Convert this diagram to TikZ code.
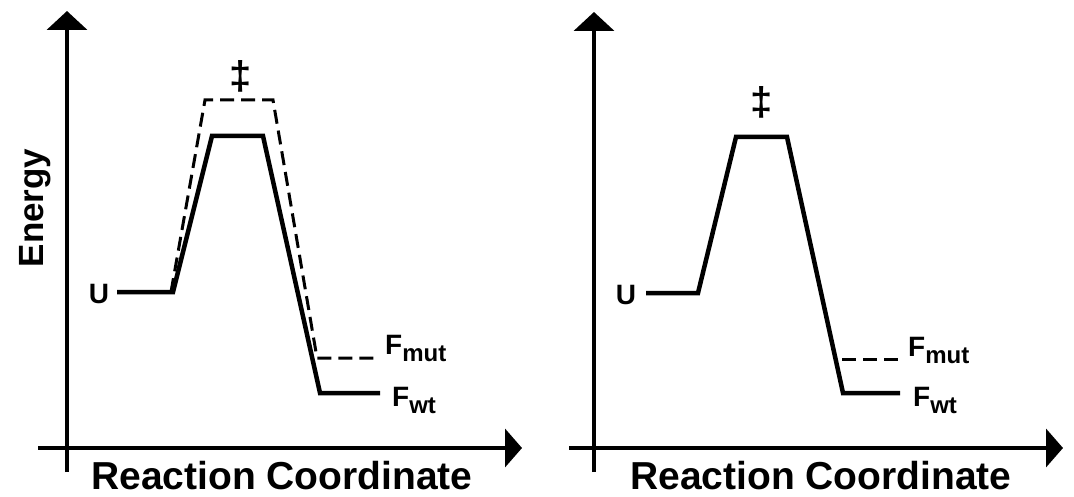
\documentclass[tikz,border=0pt]{standalone}
\usepackage{fontspec}
\setmainfont{Liberation Sans}
\usetikzlibrary{arrows.meta}

\newcommand{\levelsub}[2]{#1\raisebox{-7pt}{\fontsize{24}{24}\selectfont #2}}

\begin{document}
\begin{tikzpicture}[
        x=1pt, y=-1pt,
        axis/.style={line width=4pt, -{Triangle[length=19pt,width=40pt]}},
        xaxis/.style={line width=4pt, -{Triangle[length=17pt,width=38pt]}},
        path/.style={line width=4.5pt},
        mutpath/.style={line width=3pt, dash pattern=on 14pt off 7pt},
        lbl/.style={font=\fontsize{28}{28}\selectfont\bfseries, inner sep=0pt},
        dag/.style={font=\fontsize{40}{40}\selectfont\bfseries, inner sep=0pt},
        title/.style={font=\fontsize{39}{39}\selectfont\bfseries, inner sep=0pt, text depth=0pt}
      ]
  \useasboundingbox (0,0) rectangle (1074,497);

  % left panel
  \draw [axis]  (67,472) -- (67,11);
  \draw [xaxis] (38,448) -- (522,448);
  \node (energy) [title, font=\fontsize{35}{35}\selectfont\bfseries, rotate=90, anchor=base] at (43,208) {Energy};
  \node (rcL) [title, anchor=base] at (282,489) {Reaction Coordinate};

  \node (uL)    [lbl, anchor=base] at (99,303) {U};
  \node (dagL)  [dag] at (241,76) {‡};
  \node (fmutL) [lbl, anchor=base west] at (385,354) {\levelsub{F}{mut}};
  \node (fwtL)  [lbl, anchor=base west] at (392,406) {\levelsub{F}{wt}};

  \draw [mutpath] (171,292) -- (205,100) -- (273,100) -- (317,358) -- (377,358);
  \draw [path] (117,292) -- (173,292) -- (212,136) -- (263,136) -- (320,393) -- (380,393);

  % right panel
  \draw [axis]  (594,472) -- (594,12);
  \draw [xaxis] (569,448) -- (1063,448);
  \node (rcR) [title, anchor=base] at (821,489) {Reaction Coordinate};

  \node (uR)    [lbl, anchor=base] at (626,304) {U};
  \node (dagR)  [dag] at (762,102) {‡};
  \node (fmutR) [lbl, anchor=base west] at (908,356) {\levelsub{F}{mut}};
  \node (fwtR)  [lbl, anchor=base west] at (913,406) {\levelsub{F}{wt}};

  \draw [mutpath] (842,359) -- (899,359);
  \draw [path] (646,293) -- (698,293) -- (736,137) -- (787,137) -- (843,393) -- (900,393);

\end{tikzpicture}
\end{document}
